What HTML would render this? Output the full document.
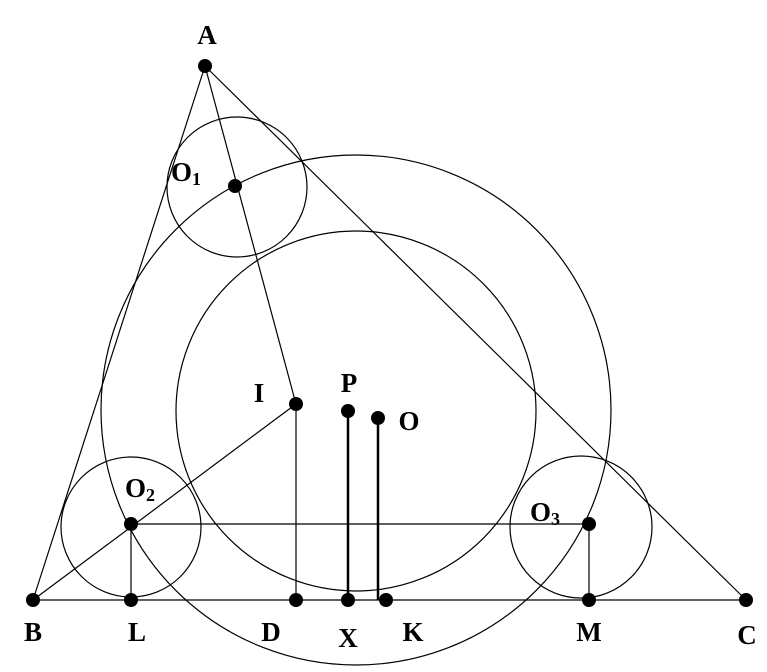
<!DOCTYPE html>
<html><head><style>html,body{margin:0;padding:0;background:#fff}svg{display:block}</style></head><body>
<svg width="767" height="672" viewBox="0 0 767 672" xmlns="http://www.w3.org/2000/svg">
<g fill="none" stroke="#000" stroke-width="1.2">
<line x1="205" y1="66" x2="33" y2="600"/>
<line x1="205" y1="66" x2="746" y2="600"/>
<line x1="33" y1="600" x2="746" y2="600"/>
<line x1="205" y1="66" x2="296" y2="404"/>
<line x1="33" y1="600" x2="296" y2="404"/>
<line x1="131" y1="524" x2="589" y2="524"/>
<line x1="131" y1="524" x2="131" y2="600"/>
<line x1="296" y1="404" x2="296" y2="600"/>
<line x1="589" y1="524" x2="589" y2="600"/>
<circle cx="237" cy="187" r="70"/>
<circle cx="131" cy="527" r="70"/>
<circle cx="581" cy="527" r="71"/>
<circle cx="356" cy="411" r="180"/>
<circle cx="356" cy="410" r="255"/>
</g>
<g stroke="#000" stroke-width="2.5">
<line x1="348" y1="411" x2="348" y2="600"/>
<line x1="378" y1="418" x2="378" y2="600"/>
</g>
<g fill="#000">
<circle cx="205" cy="66" r="7"/><circle cx="235" cy="186" r="7"/><circle cx="296" cy="404" r="7"/>
<circle cx="348" cy="411" r="7"/><circle cx="378" cy="418" r="7"/><circle cx="131" cy="524" r="7"/>
<circle cx="589" cy="524" r="7"/><circle cx="33" cy="600" r="7"/><circle cx="131" cy="600" r="7"/>
<circle cx="296" cy="600" r="7"/><circle cx="348" cy="600" r="7"/><circle cx="386" cy="600" r="7"/>
<circle cx="589" cy="600" r="7"/><circle cx="746" cy="600" r="7"/>
</g>
<g font-family="Liberation Serif, serif" font-weight="bold" font-size="27" fill="#000" text-anchor="middle">
<text x="207" y="44">A</text>
<text x="186" y="181">O<tspan font-size="18" dy="4">1</tspan></text>
<text x="259" y="402">I</text>
<text x="349" y="392">P</text>
<text x="409" y="430">O</text>
<text x="140" y="497">O<tspan font-size="18" dy="4">2</tspan></text>
<text x="545" y="521">O<tspan font-size="18" dy="4">3</tspan></text>
<text x="33" y="641">B</text>
<text x="137" y="641">L</text>
<text x="271" y="641">D</text>
<text x="348" y="647">X</text>
<text x="413" y="641">K</text>
<text x="589" y="641">M</text>
<text x="747" y="644">C</text>
</g>
</svg>
</body></html>
